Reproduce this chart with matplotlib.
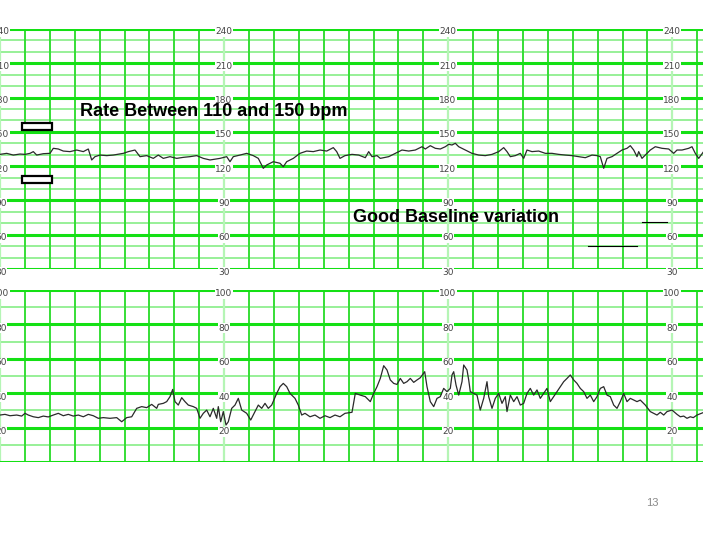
"""CTG strip slide: fetal heart rate (top) and uterine activity (bottom)."""

import matplotlib

matplotlib.use("Agg")

import matplotlib.pyplot as plt
import numpy as np
from matplotlib.lines import Line2D
from matplotlib.patches import Rectangle

# position along the strip (scan pixels, one small square ~ 24.9) and readings
fhr_t = [0.0, 6.7, 13.3, 20.0, 25.0, 30.0, 33.3, 36.7, 43.3, 50.0, 53.3, 58.3,
         63.3, 70.0, 76.7, 83.3, 88.3, 91.7, 95.0, 100.0, 106.7, 113.3, 123.3,
         128.3, 135.0, 140.0, 146.7, 153.3, 158.3, 163.3, 170.0, 176.7, 183.3,
         190.0, 196.7, 203.3, 210.0, 220.0, 226.7, 230.0, 233.3, 240.0, 246.7,
         253.3, 258.3, 263.3, 266.7, 273.3, 280.0, 283.3, 286.7, 293.3, 300.0,
         306.7, 313.3, 320.0, 326.7, 333.3, 336.7, 340.0, 345.0, 352.0, 358.7,
         365.3, 368.7, 372.0, 377.0, 380.3, 383.7, 388.7, 395.3, 402.0, 408.7,
         415.3, 422.0, 425.3, 430.3, 435.3, 440.3, 445.3, 448.7, 452.0, 455.3,
         458.7, 465.3, 472.0, 478.7, 485.3, 492.0, 498.7, 503.7, 507.0, 510.3,
         515.3, 520.3, 523.7, 527.0, 532.0, 538.7, 545.3, 552.0, 558.7, 565.3,
         572.0, 578.7, 585.3, 592.0, 597.0, 600.3, 603.7, 607.0, 612.0, 617.0,
         622.0, 627.0, 630.3, 633.7, 637.0, 638.7, 642.0, 645.3, 650.3, 655.3,
         662.0, 668.7, 673.7, 677.0, 682.0, 688.7, 692.0, 695.3, 698.7, 704.0]
fhr_bpm = [130.3, 131.2, 129.7, 130.6, 130.3, 131.2, 132.7, 129.7, 130.9, 131.2,
           135.6, 135.0, 133.2, 132.7, 134.1, 132.7, 135.0, 125.4, 128.3, 129.7,
           129.2, 129.7, 131.2, 132.7, 134.1, 128.3, 129.2, 126.8, 129.7, 126.8,
           128.3, 126.8, 127.7, 128.3, 129.2, 126.8, 125.4, 126.8, 128.3, 123.9,
           128.3, 129.7, 131.2, 129.2, 126.8, 118.1, 121.0, 123.9, 122.5, 119.5,
           123.9, 126.8, 131.2, 133.2, 132.7, 134.1, 133.2, 136.2, 132.7, 126.8,
           129.2, 130.3, 129.7, 127.4, 132.7, 128.3, 129.2, 126.8, 127.4, 128.3,
           131.2, 134.1, 133.2, 134.1, 137.0, 135.0, 137.9, 135.6, 135.0, 137.0,
           139.1, 138.5, 140.0, 137.0, 134.1, 131.2, 129.7, 129.2, 130.3, 132.7,
           136.2, 132.7, 128.3, 129.2, 131.2, 126.8, 134.1, 132.7, 133.2, 131.2,
           131.2, 130.3, 129.7, 129.2, 128.3, 127.4, 129.7, 129.2, 128.3, 118.1,
           126.8, 128.3, 131.2, 134.1, 135.6, 137.9, 134.1, 128.3, 132.7, 126.8,
           129.7, 134.1, 137.0, 135.6, 135.0, 131.2, 134.1, 134.1, 135.6, 137.0,
           131.2, 126.8, 133.2]

toco_t = [0.0, 5.0, 10.0, 16.7, 21.7, 25.0, 28.3, 33.3, 38.3, 43.3, 48.3, 53.3,
          58.3, 63.3, 68.3, 73.3, 78.3, 83.3, 88.3, 93.3, 98.3, 103.3, 110.0,
          116.7, 121.7, 126.7, 131.7, 136.7, 141.7, 146.7, 151.7, 156.7, 158.3,
          163.3, 166.7, 170.0, 172.7, 175.0, 178.3, 181.7, 185.0, 188.3, 193.3,
          196.7, 200.0, 203.3, 206.7, 210.0, 213.3, 216.7, 218.3, 220.7, 223.3,
          226.0, 228.3, 231.7, 235.0, 238.3, 241.7, 246.7, 250.7, 255.0, 258.3,
          261.7, 265.0, 268.3, 271.7, 276.7, 280.0, 283.3, 286.7, 290.0, 295.0,
          298.3, 301.7, 305.0, 310.0, 315.0, 320.0, 325.0, 330.0, 335.0, 340.0,
          345.0, 352.0, 355.3, 360.3, 365.3, 370.3, 373.7, 377.0, 380.3, 383.7,
          387.0, 390.3, 393.7, 397.0, 400.3, 403.7, 407.0, 410.3, 413.7, 417.0,
          420.3, 424.7, 427.0, 430.3, 433.7, 437.0, 440.3, 443.7, 447.0, 450.3,
          452.0, 453.7, 456.0, 458.7, 462.0, 463.7, 467.0, 468.7, 470.3, 473.7,
          477.0, 480.3, 483.7, 487.0, 488.7, 492.0, 495.3, 498.7, 502.0, 505.3,
          507.0, 510.3, 513.7, 517.0, 520.3, 523.7, 527.0, 530.3, 533.7, 537.0,
          540.3, 543.7, 547.0, 550.3, 553.7, 557.0, 560.3, 563.7, 567.0, 570.3,
          573.7, 577.0, 580.3, 583.7, 587.0, 590.3, 593.7, 597.0, 600.3, 603.7,
          607.0, 610.3, 613.7, 617.0, 620.3, 623.7, 627.0, 630.3, 633.7, 637.0,
          640.3, 645.3, 650.3, 653.7, 657.0, 660.3, 663.7, 667.0, 672.0, 677.0,
          680.3, 683.7, 687.0, 690.3, 693.3, 697.0, 704.0]
toco_val = [27.3, 27.7, 26.9, 27.3, 26.7, 28.3, 27.3, 26.3, 25.8, 26.7, 26.2,
            27.3, 28.3, 26.9, 27.7, 26.7, 27.3, 26.3, 27.7, 26.9, 25.4, 25.8,
            25.4, 25.8, 23.4, 25.8, 26.3, 31.2, 32.2, 31.6, 33.5, 31.2, 33.5,
            34.1, 35.1, 38.0, 42.2, 35.1, 33.1, 37.4, 35.1, 33.1, 32.2, 31.2,
            25.4, 28.3, 30.2, 26.3, 31.2, 25.4, 32.2, 23.4, 29.3, 21.5, 23.4,
            31.2, 33.1, 37.0, 30.2, 28.3, 24.4, 29.3, 33.1, 31.2, 34.1, 31.2,
            33.1, 39.9, 43.8, 45.7, 43.8, 39.9, 37.0, 33.1, 27.3, 28.3, 26.3,
            27.3, 25.4, 26.9, 25.8, 27.3, 26.3, 28.3, 28.9, 39.9, 38.9, 38.0,
            35.1, 39.9, 43.8, 48.6, 56.0, 53.5, 47.7, 45.7, 45.1, 48.6, 45.7,
            46.7, 48.6, 46.3, 47.7, 49.0, 52.5, 43.8, 35.1, 32.2, 37.0, 38.0,
            42.8, 40.9, 42.8, 50.6, 52.5, 44.8, 38.9, 46.7, 56.4, 53.5, 47.7,
            40.9, 39.9, 38.9, 30.2, 37.0, 46.7, 38.0, 31.2, 37.0, 39.9, 34.1,
            38.0, 29.3, 38.9, 35.1, 38.0, 33.1, 34.1, 39.9, 42.8, 38.9, 41.9,
            37.0, 39.9, 42.8, 35.1, 38.0, 40.9, 43.8, 46.7, 48.6, 50.6, 47.7,
            45.7, 42.8, 40.9, 37.0, 38.9, 35.1, 38.0, 42.8, 43.8, 38.9, 38.0,
            33.1, 31.2, 35.1, 39.9, 35.1, 37.0, 36.0, 35.1, 36.0, 33.1, 29.3,
            28.3, 27.3, 28.9, 27.3, 29.3, 30.2, 27.7, 26.3, 26.7, 25.4, 26.3,
            25.8, 27.3, 28.9]

fhr_labels = [240, 210, 180, 150, 120, 90, 60, 30]
toco_labels = [100, 80, 60, 40, 20]
label_cols = [1, 224, 448, 672]

SQUARE = 24.9
MAJOR = "#14e014"
MINOR = "#90ef90"
VLINE = "#36de36"
COLUMN = "#b5f5b5"
INK = "#2a2a2a"


def draw_paper(ax, lo, hi, minor, major, labels, drop):
    for v in np.arange(lo, hi + 0.01, minor):
        if (v - lo) % major == 0:
            ax.axhline(v, color=MAJOR, lw=2.2, zorder=1)
        else:
            ax.axhline(v, color=MINOR, lw=1.3, zorder=0.5)
    for k, x in enumerate(np.arange(0, 703, SQUARE)):
        if k % 9 == 0:
            ax.axvline(x, color=COLUMN, lw=1.6, zorder=0.8)
        else:
            ax.axvline(x, color=VLINE, lw=1.4, zorder=0.8)
    for col in label_cols:
        for v in labels:
            ax.annotate(str(v), xy=(col, v), xytext=(0, -drop),
                        textcoords="offset pixels", ha="center", va="center",
                        fontsize=6.5, color="#444444", zorder=2,
                        family=["Liberation Sans Narrow", "DejaVu Sans"],
                        bbox=dict(fc="white", ec="none", pad=0.4))
    ax.set_xlim(0, 703)
    ax.set_ylim(lo, hi)
    ax.axis("off")


fig = plt.figure(figsize=(7.2, 5.4), dpi=100)
W, H = 720.0, 540.0

ax_fhr = fig.add_axes([0, 1 - 269 / H, 703 / W, 240 / H])
ax_toco = fig.add_axes([0, 1 - 462 / H, 703 / W, 172 / H])

draw_paper(ax_fhr, 30, 240, 10, 30, fhr_labels, 3)
draw_paper(ax_toco, 0, 100, 10, 20, toco_labels, 4)

ax_fhr.plot(fhr_t, fhr_bpm, color=INK, lw=0.9, zorder=3)
ax_toco.plot(toco_t, toco_val, color=INK, lw=0.9, zorder=3)

# slide annotations
title_font = dict(fontsize=13, fontweight="bold", color="black",
                  family="Liberation Sans", va="center", ha="left", zorder=5)
fig.text(80 / W, 1 - 112 / H, "Rate Between 110 and 150 bpm", **title_font)
fig.text(353 / W, 1 - 217 / H, "Good Baseline variation", **title_font)

for y0 in (123, 176):
    fig.patches.append(Rectangle((22 / W, 1 - (y0 + 7) / H), 30 / W, 7 / H,
                                 transform=fig.transFigure, fc="white",
                                 ec="black", lw=1.6, zorder=5))

for x0, x1, y in ((642, 667, 222), (588, 637, 246)):
    fig.lines.append(Line2D([x0 / W, x1 / W], [1 - y / H, 1 - y / H],
                            transform=fig.transFigure, color="black", lw=0.8))

fig.text(652 / W, 1 - 503 / H, "13", fontsize=8, color="#8a8a8a",
         family="Liberation Sans", ha="center", va="center")

fig.savefig("out.png", dpi=100)
